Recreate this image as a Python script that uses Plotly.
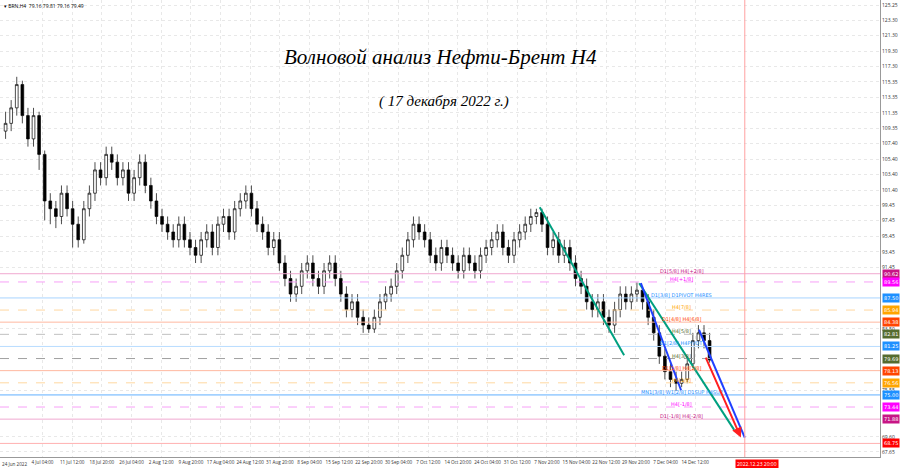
import plotly.graph_objects as go

closes = [110,112,115,111,108,111,106, 100,99,98,101,99,97, 95,99,101,104,103,
 106,105,103,104,101,103,105,102, 100,98,97,96,95,97,95,94,
 93,95,96,94,97,98,96,99,100, 101,99,97,96,94,95,92,90,
 88,89,91,92,90,89, 91,92,90,88,86,87, 85,84,83.5,85,87,88,
 89,91,93,95,97,96,95, 93,92,94,93,92,91,93, 92,91,93,94,95,96,
 94,93,95,96,97,98,98.5, 97,94,95,93,94, 92,90,89,87,86,87,
 85,84,86,88,87, 88,88.5,87,85,83,80, 78,77,76.5,77, 79,82,83,82,79.49]
highs = [111.5,113,116,115.5,112,112,111.5,106.5,101,100,102,102,100,98,100,102,105,105,
 107,107,106,105,105,104,106,106,103,101,99,98,97,98,98,96,
 95,96,97,97,98,99,99,100,101,102,102,100,98,97,96,96,93,
 91,90,92,93,93,91,92,93,93,91,89,88,88,86,85,86,88,89,
 90,92,94,96,98,98,97,96,94,95,95,94,93,94,94,93,94,95,96,97,
 97,95,96,97,98,99,99,99,98,96,96,95,95,93,91,90,88,88,
 88,86,87,89,89,89,89.5,89,88,86,84,81,79,78,78,80,83,84,84,83]
lows = [108,109,111,110,107,107,104,97.5,97,96.5,97,98,94,94,94.5,98,100,102,
 102,104,102,102,100,100,102,101,99,97,96,95,94,94,94,93,
 92,92,94,93,93,96,95,95,98,99,98,96,95,93,93,91,89,
 87,87,88,90,89,88,88,90,89,87,85,85,84,83,83,83,84,86,
 87,88,90,92,94,95,94,92,91,91,92,91,90,90,91,90,90,92,93,94,
 93,92,92,94,95,96,97,96,93,93,92,92,91,89,88,86,85,85,
 84,83,83,85,86,86,87,86,84,82,79,77,76,75.5,76,76.5,78.5,81,81,79.16]
opens = [109] + closes[:-1]

xlabels = ["24 Jun 2022","4 Jul 04:00","11 Jul 12:00","18 Jul 20:00","26 Jul 04:00","2 Aug 12:00",
 "9 Aug 20:00","17 Aug 04:00","24 Aug 12:00","31 Aug 20:00","8 Sep 04:00","15 Sep 12:00",
 "22 Sep 20:00","30 Sep 04:00","7 Oct 12:00","14 Oct 20:00","24 Oct 04:00","31 Oct 12:00",
 "7 Nov 20:00","15 Nov 04:00","22 Nov 12:00","29 Nov 20:00","7 Dec 04:00","14 Dec 12:00"]

levels = [90.62,89.56,87.50,85.94,84.38,82.81,81.25,79.69,78.13,76.56,75.00,73.44,71.88,68.75]
level_text = ["D1[5/8] H4[+2/8]","H4[+1/8]","D1[3/8] D1PIVOT H4RES","H4[7/8]","D1[4/8] H4[6/8]",
 "H4[5/8]","D1[2/8] H4PIVOT","H4[3/8]","D1[1/8] H4[2/8]","H4[1/8]",
 "MN1[3/8] W1[2/8] D1SUP H4SUP","H4[-1/8]","D1[-1/8] H4[-2/8]",""]
level_col = ["#c71585","#ff00ff","#1e90ff","#ffa500","#ff4500","#556b2f","#1e90ff","#556b2f",
 "#ff4500","#ffa500","#1e90ff","#ff00ff","#c71585","#ff0000"]
level_line = ["#f0a8d0","#f7a0f7","#a8d4ff","#ffd8a0","#ffb8a0","#c0c0c0","#b8dcff","#a0a0a0",
 "#ffb8a0","#ffd8a0","#60b0ff","#f7a0f7","#f0a8d0","#ffb0b0"]
level_dash = ["solid","dash","solid","dash","solid","dash","solid","dash","solid","dash","solid","dash","solid","solid"]

yticks = [125.25,123.30,121.30,119.30,117.30,115.35,113.35,111.35,109.35,107.40,105.40,103.40,
 101.40,99.45,97.45,95.45,93.45,91.45,83.50,75.55,69.60,67.65]

fig = go.Figure()
n = len(closes)
idx = list(range(n))
fig.add_trace(go.Candlestick(x=idx, open=opens, high=highs, low=lows, close=closes,
    increasing=dict(line=dict(color="black", width=0.7), fillcolor="white"),
    decreasing=dict(line=dict(color="black", width=0.7), fillcolor="black"),
    whiskerwidth=0, showlegend=False))

for p, t, c, lc, d in zip(levels, level_text, level_col, level_line, level_dash):
    fig.add_shape(type="line", xref="paper", x0=0, x1=1, y0=p, y1=p,
                  line=dict(color=lc, width=1, dash=d))
    if t:
        fig.add_annotation(x=121, y=p, text=t, showarrow=False, xanchor="center",
                           yanchor="bottom", font=dict(size=5, color=c, family="DejaVu Sans"), yshift=-2)
    fig.add_annotation(xref="paper", x=1.002, y=p, text="%.2f" % p, showarrow=False, xanchor="left",
                       bgcolor=c, font=dict(size=5, color="white", family="DejaVu Sans"), borderpad=1)

trend = [((95.6,99.2),(110.7,80.1),"#00a080"),((113.4,89.4),(130.4,70.5),"#00a080"),
         ((113.7,89.4),(120.9,75.6),"#2040ff"),((124.1,83.4),(132.3,69.5),"#2040ff")]
for (a,b,c) in trend:
    fig.add_shape(type="line", x0=a[0], y0=a[1], x1=b[0], y1=b[1], line=dict(color=c, width=2))
fig.add_annotation(x=131.6, y=69.5, ax=125.2, ay=80.0, xref="x", yref="y", axref="x", ayref="y",
                   showarrow=True, arrowhead=2, arrowsize=1, arrowwidth=2, arrowcolor="#ff2020", text="")
fig.add_shape(type="line", x0=132.3, x1=132.3, yref="paper", y0=0, y1=1, line=dict(color="#ffa0a0", width=1))
fig.add_annotation(x=134.5, yref="paper", y=-0.004, text="2022.12.23 20:00", showarrow=False, yanchor="top",
                   bgcolor="#ff0000", font=dict(size=5, color="white"), borderpad=1)

fig.add_annotation(xref="paper", yref="paper", x=0.5, y=0.905, text="<i>Волновой анализ Нефти-Брент H4</i>",
                   showarrow=False, font=dict(size=21, family="Liberation Serif", color="black"))
fig.add_annotation(xref="paper", yref="paper", x=0.505, y=0.8, text="<i>( 17 декабря 2022 г.)</i>",
                   showarrow=False, font=dict(size=15, family="Liberation Serif", color="black"))
fig.add_annotation(xref="paper", yref="paper", x=0.002, y=0.998, xanchor="left", yanchor="top",
                   text="▾ BRN,H4  79.16 79.81 79.16 79.49", showarrow=False,
                   font=dict(size=5, color="black"))
fig.add_annotation(xref="paper", yref="paper", x=0.0, y=-0.004, xanchor="left", yanchor="top",
                   text=xlabels[0], showarrow=False, font=dict(size=4.6, color="#333"))

tickpos = [1.3 + k*5.31 for k in range(1, len(xlabels))]
fig.update_layout(width=900, height=468, margin=dict(l=0, r=20, t=0, b=11),
    paper_bgcolor="white", plot_bgcolor="white",
    xaxis=dict(range=[-1, 156.5], tickvals=tickpos, ticktext=xlabels[1:], rangeslider=dict(visible=False),
               showgrid=True, gridcolor="#e8e8e8", griddash="dot", tickfont=dict(size=4.6, color="#333"),
               tickangle=0, showline=True, linecolor="#999", mirror=True, ticks="", zeroline=False),
    yaxis=dict(range=[67.0, 125.9], side="right", tickvals=yticks, ticktext=["%.2f" % v for v in yticks],
               showgrid=True, gridcolor="#e8e8e8", griddash="dot", tickfont=dict(size=5, color="#333"),
               showline=True, linecolor="#999", mirror=True, ticks="", zeroline=False))
fig.write_html("out.html", config={"displayModeBar": False},
               post_script="document.body.style.margin='0';document.body.style.overflow='hidden';")
